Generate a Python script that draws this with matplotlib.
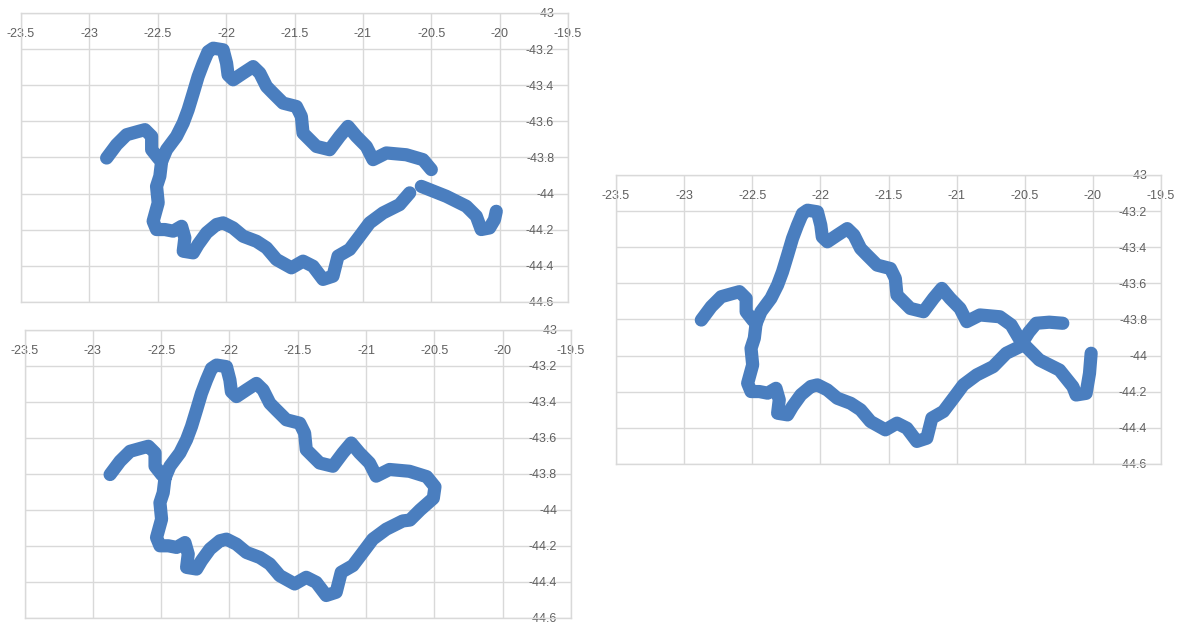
import matplotlib.pyplot as plt

# track (lon, lat)
upper_x = [-22.874, -22.801, -22.728, -22.643, -22.594, -22.545, -22.545, -22.497, -22.472,
           -22.436, -22.363, -22.314, -22.278, -22.241, -22.205, -22.168, -22.132, -22.095,
           -22.022, -21.997, -21.986, -21.949, -21.876, -21.803, -21.754, -21.705, -21.657,
           -21.584, -21.486, -21.45, -21.438, -21.34, -21.243, -21.17, -21.109, -21.048,
           -20.975, -20.926, -20.829, -20.683]
upper_y = [-43.803, -43.729, -43.674, -43.656, -43.646, -43.683, -43.757, -43.803, -43.822,
           -43.757, -43.683, -43.609, -43.536, -43.444, -43.352, -43.278, -43.214, -43.195,
           -43.204, -43.278, -43.343, -43.370, -43.333, -43.297, -43.333, -43.407, -43.444,
           -43.499, -43.518, -43.573, -43.665, -43.739, -43.757, -43.683, -43.628, -43.683,
           -43.739, -43.812, -43.775, -43.785]

lower_x = [-22.472, -22.485, -22.509, -22.497, -22.534, -22.509, -22.448, -22.387, -22.326,
           -22.302, -22.314, -22.241, -22.205, -22.143, -22.07, -22.022, -21.949, -21.876,
           -21.778, -21.705, -21.632, -21.523, -21.438, -21.365, -21.292, -21.219, -21.182,
           -21.097, -21.024, -20.951, -20.853, -20.732]
lower_y = [-43.822, -43.904, -43.96, -44.051, -44.153, -44.199, -44.199, -44.208, -44.181,
           -44.245, -44.319, -44.328, -44.282, -44.217, -44.171, -44.162, -44.19, -44.236,
           -44.264, -44.3, -44.365, -44.411, -44.374, -44.402, -44.475, -44.457, -44.346,
           -44.309, -44.236, -44.162, -44.107, -44.061]

# chart 1 ends
c1_upper_end_x = [-20.561, -20.5]
c1_upper_end_y = [-43.812, -43.867]
c1_lower_end_x = [-20.658]
c1_lower_end_y = [-43.996]
c1_east_x = [-20.573, -20.39, -20.244, -20.171, -20.135, -20.074, -20.038, -20.025]
c1_east_y = [-43.96, -44.015, -44.07, -44.125, -44.199, -44.19, -44.144, -44.098]

# chart 2 closes the loop
c2_close_x = [-20.556, -20.496, -20.508, -20.605, -20.679]
c2_close_y = [-43.815, -43.871, -43.935, -44.0, -44.056]

# chart 3 crosses over
c3_upper_end_x = [-20.6, -20.53, -20.393, -20.245, -20.147, -20.123, -20.05, -20.025, -20.013]
c3_upper_end_y = [-43.83, -43.92, -44.024, -44.08, -44.172, -44.218, -44.209, -44.098, -43.987]
c3_lower_end_x = [-20.636, -20.538, -20.47, -20.416, -20.32, -20.221]
c3_lower_end_y = [-43.987, -43.951, -43.87, -43.821, -43.815, -43.821]

x_ticks = [-23.5, -23, -22.5, -22, -21.5, -21, -20.5, -20, -19.5]
x_labels = ["-23.5", "-23", "-22.5", "-22", "-21.5", "-21", "-20.5", "-20", "-19.5"]
y_ticks = [-43, -43.2, -43.4, -43.6, -43.8, -44, -44.2, -44.4, -44.6]
y_labels = ["-43", "-43.2", "-43.4", "-43.6", "-43.8", "-44", "-44.2", "-44.4", "-44.6"]

blue = '#4a7ebf'
grey = '#d9d9d9'

plt.rcParams['font.family'] = ['Liberation Sans', 'DejaVu Sans']


def style(ax):
    ax.set_xlim(-23.5, -19.5)
    ax.set_ylim(-44.6, -43)
    ax.set_xticks(x_ticks)
    ax.set_xticklabels(x_labels)
    ax.set_yticks(y_ticks)
    ax.set_yticklabels(y_labels)
    ax.xaxis.tick_top()
    ax.yaxis.tick_right()
    ax.tick_params(axis='x', length=0, pad=-15, labelsize=9, labelcolor='#606060')
    ax.tick_params(axis='y', length=0, pad=-10, labelsize=9, labelcolor='#606060')
    for t in ax.xaxis.get_major_ticks():
        t.label2.set_verticalalignment('center')
    for t in ax.yaxis.get_major_ticks():
        t.label2.set_horizontalalignment('right')
    ax.grid(color=grey, lw=1.0)
    ax.set_axisbelow(True)
    for s in ax.spines.values():
        s.set_color(grey)
        s.set_linewidth(1.0)


def track(ax, xs, ys):
    ax.plot(xs, ys, color=blue, lw=9.5, solid_capstyle='round', solid_joinstyle='round')


fig = plt.figure(figsize=(11.81, 6.26), dpi=100)

ax1 = fig.add_axes([0.0178, 0.5176, 0.4632, 0.4617])
style(ax1)
track(ax1, upper_x + c1_upper_end_x, upper_y + c1_upper_end_y)
track(ax1, lower_x + c1_lower_end_x, lower_y + c1_lower_end_y)
track(ax1, c1_east_x, c1_east_y)

ax2 = fig.add_axes([0.0208, 0.0128, 0.4627, 0.4601])
style(ax2)
track(ax2, upper_x + c2_close_x + lower_x[::-1], upper_y + c2_close_y + lower_y[::-1])

ax3 = fig.add_axes([0.5216, 0.2588, 0.4615, 0.4617])
style(ax3)
track(ax3, upper_x + c3_upper_end_x, upper_y + c3_upper_end_y)
track(ax3, lower_x + c3_lower_end_x, lower_y + c3_lower_end_y)

plt.savefig("out.png", dpi=100)
